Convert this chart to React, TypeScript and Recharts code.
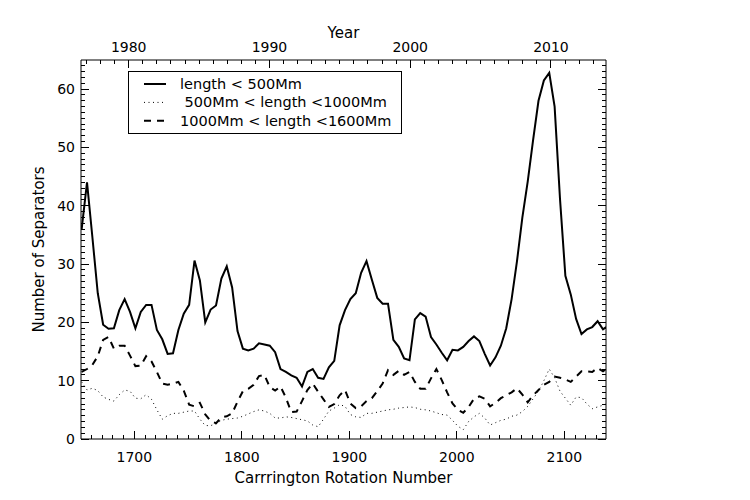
import React from "react";
import { LineChart, Line, XAxis, YAxis, Legend } from "recharts";

// Carrington rotation sampled every 5 rotations
const rotations = [
  1651, 1656, 1661, 1666, 1671, 1676, 1681, 1686, 1691, 1696,
  1701, 1706, 1711, 1716, 1721, 1726, 1731, 1736, 1741, 1746,
  1751, 1756, 1761, 1766, 1771, 1776, 1781, 1786, 1791, 1796,
  1801, 1806, 1811, 1816, 1821, 1826, 1831, 1836, 1841, 1846,
  1851, 1856, 1861, 1866, 1871, 1876, 1881, 1886, 1891, 1896,
  1901, 1906, 1911, 1916, 1921, 1926, 1931, 1936, 1941, 1946,
  1951, 1956, 1961, 1966, 1971, 1976, 1981, 1986, 1991, 1996,
  2001, 2006, 2011, 2016, 2021, 2026, 2031, 2036, 2041, 2046,
  2051, 2056, 2061, 2066, 2071, 2076, 2081, 2086, 2091, 2096,
  2101, 2106, 2111, 2116, 2121, 2126, 2131, 2136, 2139,
];

// length < 500Mm
const shortSeparators = [
  36, 44, 34.6, 25, 19.6, 18.9, 19, 22.1, 24, 21.8,
  19, 21.8, 23, 23, 18.7, 17.1, 14.6, 14.7, 18.7, 21.5,
  23, 30.6, 27.2, 20, 22.2, 22.9, 27.5, 29.6, 26, 18.5,
  15.5, 15.2, 15.5, 16.4, 16.2, 16, 14.9, 12, 11.5, 10.9,
  10.5, 9, 11.5, 12, 10.5, 10.3, 12.3, 13.4, 19.5, 22.1,
  24, 25, 28.5, 30.5, 27.3, 24.2, 23.2, 23.2, 17, 15.8,
  13.8, 13.5, 20.5, 21.6, 21, 17.5, 16.2, 14.8, 13.5, 15.3,
  15.2, 15.8, 16.8, 17.6, 16.8, 14.6, 12.6, 14, 16, 19,
  24, 30.5, 38, 44.2, 51.3, 58, 61.5, 62.8, 57, 41.2,
  28, 24.8, 20.6, 18, 18.8, 19.2, 20.2, 18.8, 19.2,
];

// 500Mm < length < 1000Mm
const mediumSeparators = [
  9.8, 8.4, 8.7, 8.3, 7.2, 6.8, 6.5, 7.6, 8.4, 8.2,
  7, 6.9, 7.6, 6.8, 5, 3.4, 4, 4.4, 4.4, 4.6,
  4.8, 4.8, 3.4, 2.3, 2.3, 2.6, 3.2, 3.4, 3.5, 3.6,
  3.9, 4.3, 4.7, 5, 4.8, 4.4, 3.6, 3.6, 3.8, 3.7,
  3.5, 3.3, 3.1, 2.4, 2.1, 3.4, 4.8, 5.3, 5.9, 5.6,
  4.2, 3.8, 3.7, 4.4, 4.4, 4.6, 4.8, 5, 5.1, 5.3,
  5.4, 5.5, 5.4, 5.1, 5, 4.8, 4.5, 4.2, 4.1, 3.2,
  2.2, 1.6, 3, 3.8, 4.4, 3.6, 2.4, 2.8, 3.2, 3.4,
  3.9, 4.1, 4.7, 5.6, 6.9, 8.2, 10, 12, 10.5, 8.2,
  7, 5.8, 7.2, 7.1, 6, 5.2, 5.5, 5.8, 6,
];

// 1000Mm < length < 1600Mm
const longSeparators = [
  11.5, 12, 12.7, 14.2, 17, 17.5, 15.5, 16, 16, 14.3,
  12.5, 12.6, 14.2, 13.3, 11.5, 9.5, 9.3, 9.5, 9.8, 8.3,
  5.9, 5.6, 6.2, 4.2, 3.1, 2.7, 3.7, 3.9, 4.4, 6.4,
  8.2, 8.6, 9.3, 10.8, 11, 8.9, 8.3, 9, 7.1, 4.6,
  4.7, 6.5, 8.4, 9.5, 8.1, 6.8, 5.5, 6, 7.5, 8.4,
  6.1, 5.3, 5.6, 6.5, 7, 8.2, 9.5, 11.8, 11, 11.7,
  11, 11.5, 9.8, 8.6, 8.6, 10.4, 12, 10.1, 8, 6.1,
  5, 4.5, 5.5, 6.9, 7.3, 6.9, 5.6, 6.2, 7, 7.5,
  8, 8.7, 7.6, 6.3, 7.5, 8.4, 9.3, 9.8, 10.7, 10.5,
  10.2, 9.8, 10.7, 11.6, 11.6, 11.5, 12.2, 11.6, 12,
];

const rotationTicks = [
  1660, 1670, 1680, 1690, 1700, 1710, 1720, 1730, 1740, 1750,
  1760, 1770, 1780, 1790, 1800, 1810, 1820, 1830, 1840, 1850,
  1860, 1870, 1880, 1890, 1900, 1910, 1920, 1930, 1940, 1950,
  1960, 1970, 1980, 1990, 2000, 2010, 2020, 2030, 2040, 2050,
  2060, 2070, 2080, 2090, 2100, 2110, 2120, 2130,
];

const yearTicks = [
  1977, 1978, 1979, 1980, 1981, 1982, 1983, 1984, 1985, 1986,
  1987, 1988, 1989, 1990, 1991, 1992, 1993, 1994, 1995, 1996,
  1997, 1998, 1999, 2000, 2001, 2002, 2003, 2004, 2005, 2006,
  2007, 2008, 2009, 2010, 2011, 2012, 2013,
];

const countTicks = [
  0, 1, 2, 3, 4, 5, 6, 7, 8, 9, 10, 11, 12, 13, 14, 15, 16, 17, 18, 19,
  20, 21, 22, 23, 24, 25, 26, 27, 28, 29, 30, 31, 32, 33, 34, 35, 36, 37, 38, 39,
  40, 41, 42, 43, 44, 45, 46, 47, 48, 49, 50, 51, 52, 53, 54, 55, 56, 57, 58, 59,
  60, 61, 62, 63, 64,
];

const series = [
  { key: "short", name: "length < 500Mm", width: 2, dash: undefined as string | undefined },
  { key: "medium", name: " 500Mm < length <1000Mm", width: 1, dash: "1 3.5" },
  { key: "long", name: "1000Mm < length <1600Mm", width: 2, dash: "7 6" },
];

const data = rotations.map((cr, i) => ({
  cr,
  short: shortSeparators[i],
  medium: mediumSeparators[i],
  long: longSeparators[i],
}));

const FONT = "'DejaVu Sans', sans-serif";

// IDL-style ticks: lines point into the plot, labels only on major ticks
const BottomTick = ({ x, y, payload }: any) => {
  const major = payload.value % 100 === 0;
  return (
    <g>
      <line x1={x} x2={x} y1={y} y2={y - (major ? 8 : 4)} stroke="#000" shapeRendering="crispEdges" />
      {major && (
        <text x={x} y={y + 23} textAnchor="middle" fill="#000" fontSize={14} fontFamily={FONT}>
          {payload.value}
        </text>
      )}
    </g>
  );
};

const TopTick = ({ x, y, payload }: any) => {
  const major = payload.value % 10 === 0;
  return (
    <g>
      <line x1={x} x2={x} y1={y} y2={y + (major ? 8 : 4)} stroke="#000" shapeRendering="crispEdges" />
      {major && (
        <text x={x} y={y - 8} textAnchor="middle" fill="#000" fontSize={14} fontFamily={FONT}>
          {payload.value}
        </text>
      )}
    </g>
  );
};

const LeftTick = ({ x, y, payload }: any) => {
  const major = payload.value % 10 === 0;
  return (
    <g>
      <line x1={x} x2={x + (major ? 8 : 4)} y1={y} y2={y} stroke="#000" shapeRendering="crispEdges" />
      {major && (
        <text x={x - 6} y={y + 5} textAnchor="end" fill="#000" fontSize={14} fontFamily={FONT}>
          {payload.value}
        </text>
      )}
    </g>
  );
};

const RightTick = ({ x, y, payload }: any) => {
  const major = payload.value % 10 === 0;
  return (
    <line x1={x} x2={x - (major ? 8 : 4)} y1={y} y2={y} stroke="#000" shapeRendering="crispEdges" />
  );
};

const renderLegend = () => (
  <svg width={275} height={64} style={{ display: "block" }}>
    <rect x={0.5} y={0.5} width={273} height={62} fill="#fff" stroke="#000" shapeRendering="crispEdges" />
    {series.map((s, i) => {
      const cy = 13 + i * 18.4;
      return (
        <g key={s.key}>
          <line x1={16} x2={38} y1={cy} y2={cy} stroke="#000" strokeWidth={s.width} strokeDasharray={s.dash} />
          <text x={52} y={cy + 5} fontSize={14.5} fontFamily={FONT} fill="#000" style={{ whiteSpace: "pre" }}>
            {s.name}
          </text>
        </g>
      );
    })}
  </svg>
);

export default function App() {
  return (
    <div style={{ position: "absolute", left: 0, top: 0, width: 750, height: 500, background: "#fff", fontFamily: FONT }}>
      <LineChart width={750} height={500} data={data} margin={{ top: 10, right: 134, bottom: 10, left: 10 }}>
        <XAxis
          xAxisId="cr"
          dataKey="cr"
          type="number"
          domain={[1650.4, 2138.8]}
          allowDataOverflow
          ticks={rotationTicks}
          interval={0}
          height={51}
          tickSize={0}
          tickMargin={0}
          tickLine={false}
          axisLine={{ stroke: "#000" }}
          tick={<BottomTick />}
          label={{
            content: ({ viewBox }: any) => (
              <text x={viewBox.x + viewBox.width / 2} y={viewBox.y + 44} textAnchor="middle" fontSize={15} fontFamily={FONT} fill="#000">
                Carrrington Rotation Number
              </text>
            ),
          }}
        />
        <XAxis
          xAxisId="year"
          orientation="top"
          dataKey="cr"
          type="number"
          domain={[1976.61, 2013.91]}
          allowDataOverflow
          ticks={yearTicks}
          interval={0}
          height={50}
          tickSize={0}
          tickMargin={0}
          tickLine={false}
          axisLine={{ stroke: "#000" }}
          tick={<TopTick />}
          label={{
            content: ({ viewBox }: any) => (
              <text x={viewBox.x + viewBox.width / 2} y={viewBox.y + 28} textAnchor="middle" fontSize={15} fontFamily={FONT} fill="#000">
                Year
              </text>
            ),
          }}
        />
        <YAxis
          yAxisId="left"
          type="number"
          domain={[0, 65]}
          allowDataOverflow
          ticks={countTicks}
          interval={0}
          width={71}
          tickSize={0}
          tickMargin={0}
          tickLine={false}
          axisLine={{ stroke: "#000" }}
          tick={<LeftTick />}
          label={{
            content: ({ viewBox }: any) => {
              const cx = viewBox.x + 34;
              const cy = viewBox.y + viewBox.height / 2;
              return (
                <text x={cx} y={cy} transform={`rotate(-90 ${cx} ${cy})`} textAnchor="middle" fontSize={15} fontFamily={FONT} fill="#000">
                  Number of Separators
                </text>
              );
            },
          }}
        />
        <YAxis
          yAxisId="right"
          orientation="right"
          type="number"
          domain={[0, 65]}
          allowDataOverflow
          ticks={countTicks}
          interval={0}
          width={10}
          tickSize={0}
          tickMargin={0}
          tickLine={false}
          axisLine={{ stroke: "#000" }}
          tick={<RightTick />}
        />
        <Legend
          layout="vertical"
          align="center"
          verticalAlign="middle"
          wrapperStyle={{ left: 128, top: 71, width: 275, height: 64 }}
          content={renderLegend}
        />
        {series.map((s) => (
          <Line
            key={s.key}
            xAxisId="cr"
            yAxisId="left"
            type="linear"
            dataKey={s.key}
            name={s.name}
            stroke="#000"
            strokeWidth={s.width}
            strokeDasharray={s.dash}
            dot={false}
            activeDot={false}
            isAnimationActive={false}
          />
        ))}
      </LineChart>
    </div>
  );
}
